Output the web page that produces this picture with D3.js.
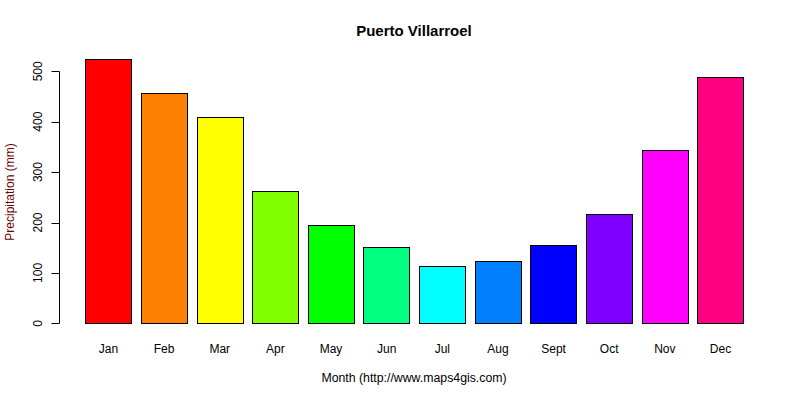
<!DOCTYPE html>
<html>
<head>
<meta charset="utf-8">
<script src="https://cdn.jsdelivr.net/npm/d3@7"></script>
<style>
body { margin: 0; background: #fff; }
text { font-family: "Liberation Sans", Arial, sans-serif; }
</style>
</head>
<body>
<div id="chart"></div>
<script>
var months = ["Jan", "Feb", "Mar", "Apr", "May", "Jun", "Jul", "Aug", "Sept", "Oct", "Nov", "Dec"];
var precip = [524, 456, 409, 262, 196, 151, 113, 123, 155, 216, 343, 488];
var barColors = ["#FF0000", "#FF8000", "#FFFF00", "#80FF00", "#00FF00", "#00FF80",
                 "#00FFFF", "#0080FF", "#0000FF", "#8000FF", "#FF00FF", "#FF0080"];
var yTicks = [0, 100, 200, 300, 400, 500];

var width = 800, height = 400;

var svg = d3.select("#chart").append("svg")
    .attr("width", width)
    .attr("height", height);

var x = d3.scaleBand()
    .domain(months)
    .range([80.66, 748.3])
    .paddingInner(1 / 6)
    .paddingOuter(1 / 12);

var y = d3.scaleLinear()
    .domain([0, 500])
    .range([323.3, 71.3]);

// bars
svg.selectAll("rect.bar")
    .data(precip)
    .enter().append("rect")
    .attr("class", "bar")
    .attr("x", function (d, i) { return Math.round(x(months[i])) + 0.5; })
    .attr("y", function (d) { return Math.round(y(d)) + 0.5; })
    .attr("width", function () { return Math.round(x.bandwidth()); })
    .attr("height", function (d) { return Math.round(y(0)) - Math.round(y(d)); })
    .attr("fill", function (d, i) { return barColors[i]; })
    .attr("stroke", "#000")
    .attr("stroke-width", 1);

// y axis
var axisX = 59.5;
svg.append("line")
    .attr("x1", axisX).attr("x2", axisX)
    .attr("y1", Math.round(y(500)) + 0.5)
    .attr("y2", Math.round(y(0)) + 0.5)
    .attr("stroke", "#000");
svg.selectAll("line.ytick")
    .data(yTicks)
    .enter().append("line")
    .attr("class", "ytick")
    .attr("x1", axisX - 8).attr("x2", axisX)
    .attr("y1", function (d) { return Math.round(y(d)) + 0.5; })
    .attr("y2", function (d) { return Math.round(y(d)) + 0.5; })
    .attr("stroke", "#000");
svg.selectAll("text.ylab")
    .data(yTicks)
    .enter().append("text")
    .attr("class", "ylab")
    .attr("transform", function (d) { return "translate(42," + y(d) + ") rotate(-90)"; })
    .attr("text-anchor", "middle")
    .style("font-size", "12px")
    .attr("fill", "#000")
    .text(function (d) { return d; });

// month labels
svg.selectAll("text.xlab")
    .data(months)
    .enter().append("text")
    .attr("class", "xlab")
    .attr("x", function (d) { return x(d) + x.bandwidth() / 2; })
    .attr("y", 353)
    .attr("text-anchor", "middle")
    .style("font-size", "12px")
    .attr("fill", "#000")
    .text(function (d) { return d; });

// titles
svg.append("text")
    .attr("x", 414)
    .attr("y", 36)
    .attr("text-anchor", "middle")
    .style("font-size", "15px")
    .style("font-weight", "bold")
    .text("Puerto Villarroel");

svg.append("text")
    .attr("x", 414)
    .attr("y", 382)
    .attr("text-anchor", "middle")
    .style("font-size", "12.3px")
    .attr("fill", "#000")
    .text("Month (http://www.maps4gis.com)");

svg.append("text")
    .attr("transform", "translate(14,192) rotate(-90)")
    .attr("text-anchor", "middle")
    .style("font-size", "12px")
    .attr("fill", "#6b0000")
    .text("Precipitation (mm)");
</script>
</body>
</html>
